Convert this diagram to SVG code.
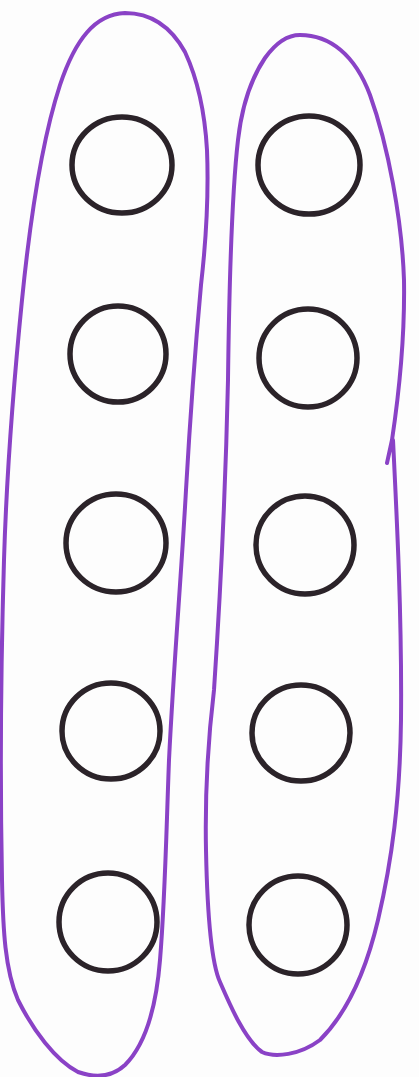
<svg xmlns="http://www.w3.org/2000/svg" width="419" height="1077" viewBox="0 0 419 1077">
<style>
.loop{fill:none;stroke:#8a42c6;stroke-width:4;stroke-linejoin:round;stroke-linecap:round}
.dot{fill:none;stroke:#2b2329;stroke-width:5.5}
</style>
<rect width="419" height="1077" fill="#fdfdfd"/>
<g id="group-left">
<path class="loop" d="M125,13 C150,13 170,25 185,52 C198,80 205,115 207,150 C209,200 205,250 201,285 C196,340 190,420 186,490 C181,580 174,660 169,760 C166,840 165,900 160,960 C156,1010 145,1045 125,1065 C112,1077 95,1078 78,1072 C55,1060 33,1030 18,1000 C5,970 3,930 2,880 C0,780 1,660 4,560 C7,460 14,380 22,300 C30,220 42,140 60,85 C75,40 95,14 125,13 Z"/>
<g id="l1"><ellipse class="dot" cx="122" cy="165" rx="50" ry="48"/></g>
<g id="l2"><ellipse class="dot" cx="118" cy="354" rx="48" ry="48"/></g>
<g id="l3"><ellipse class="dot" cx="116" cy="543" rx="50" ry="49"/></g>
<g id="l4"><ellipse class="dot" cx="111" cy="731" rx="49" ry="48"/></g>
<g id="l5"><ellipse class="dot" cx="108" cy="922" rx="49" ry="49"/></g>
</g>
<g id="group-right">
<path class="loop" d="M300,35 C330,35 355,55 370,95 C388,145 402,220 404,280 C405,340 398,400 392,440 L387,463 M393,440 C397,520 402,620 401,720 C400,800 392,860 378,920 C365,975 345,1015 320,1040 C300,1055 275,1058 262,1052 C245,1040 230,1005 220,982 C210,960 207,900 206,850 C205,800 208,740 214,690 C220,600 226,470 228,380 C229,300 231,200 238,140 C242,105 250,80 265,58 C275,44 287,35 300,35"/>
<g id="r1"><ellipse class="dot" cx="309" cy="165" rx="51" ry="49"/></g>
<g id="r2"><ellipse class="dot" cx="308" cy="358" rx="49" ry="49"/></g>
<g id="r3"><ellipse class="dot" cx="305" cy="545" rx="49" ry="49"/></g>
<g id="r4"><ellipse class="dot" cx="301" cy="733" rx="49" ry="48"/></g>
<g id="r5"><ellipse class="dot" cx="298" cy="925" rx="49" ry="49"/></g>
</g>
</svg>
